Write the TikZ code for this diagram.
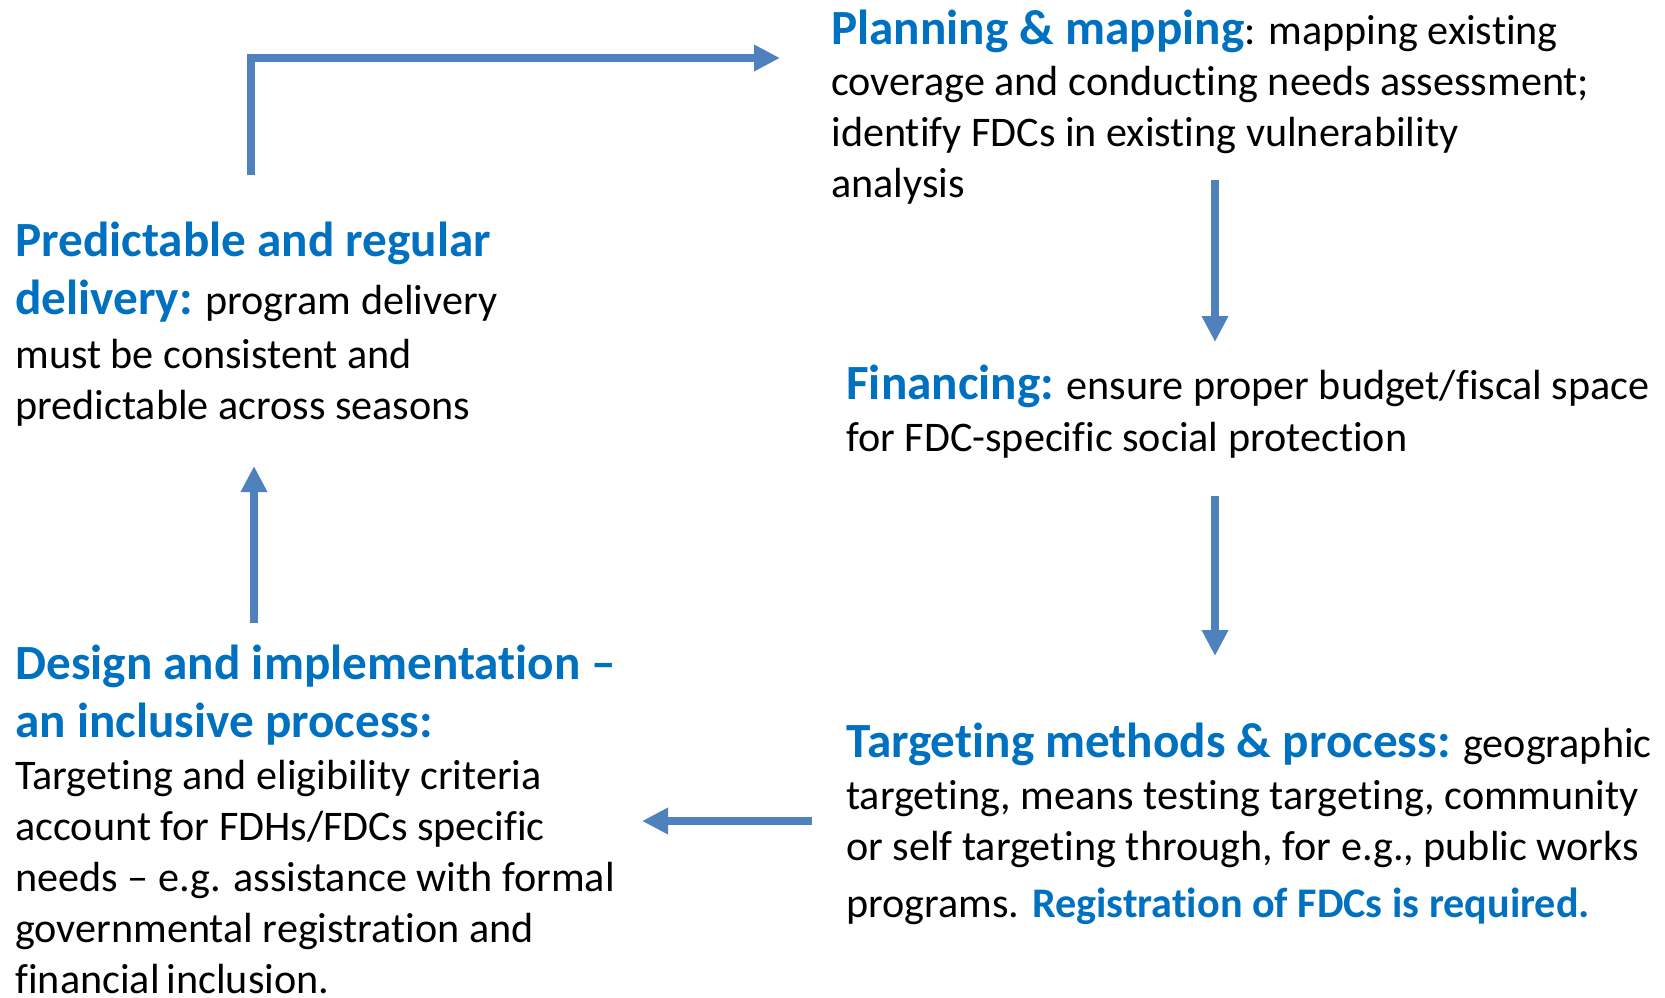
\documentclass[tikz,border=0pt]{standalone}
\usepackage{fontspec}
\setmainfont{Carlito}[Ligatures=NoCommon]
\usetikzlibrary{arrows.meta}
\definecolor{headblue}{HTML}{0070C0}
\definecolor{arrowblue}{HTML}{4F81BD}
\newcommand\hd[1]{{\fontsize{28}{29}\selectfont\bfseries\color{headblue}#1}}

\begin{document}
\begin{tikzpicture}[x=0.02cm,y=-0.02cm,
  stage/.style={anchor=base west,inner sep=0pt,align=left,
    font=\fontsize{24}{29}\selectfont},
  flow/.style={-{Triangle[length=0.52cm,width=0.5cm]},line width=0.16cm,arrowblue}]
\useasboundingbox (0,0) rectangle (1665,997);

% Planning (base = last line)
\node[stage] (plan) at (831,197) {\hd{Planning \& mapping}: mapping existing\\
coverage and conducting needs assessment;\\
identify FDCs in existing vulnerability\\
analysis};

% Financing
\node[stage] (fin) at (846,451) {\hd{Financing:} ensure proper budget/fiscal space\\[0.6pt]
for FDC-specific social protection};

% Targeting
\node[stage] (targ) at (846,917) {\hd{Targeting methods \& process:} geographic\\[0.6pt]
targeting, means testing targeting, community\\
or self targeting through, for e.g., public works\\[3pt]
programs. {\bfseries\color{headblue}\fontsize{24}{29}\selectfont Registration of FDCs is required.}};

% Design
\node[stage] (design) at (15,993) {\hd{Design and implementation --}\\[4pt]
\hd{an inclusive process:}\\[0.6pt]
Targeting and eligibility criteria\\
account for FDHs/FDCs specific\\
needs -- e.g. assistance with formal\\
governmental registration and\\
financial\,inclusion.};

% Delivery
\node[stage] (deliv) at (15,419) {\hd{Predictable and regular}\\[4pt]
\hd{delivery:} program delivery\\[1.5pt]
must be consistent and\\
predictable across seasons};

% arrows
\coordinate (delivUp) at (251,175);
\coordinate (corner) at (251,58);
\coordinate (planIn) at (780,58);
\coordinate (planOut) at (1215,180);
\coordinate (finIn) at (1215,342);
\coordinate (finOut) at (1215,496);
\coordinate (targIn) at (1215,656);
\coordinate (targOut) at (812,821);
\coordinate (designIn) at (642,821);
\coordinate (designOut) at (254,623);
\coordinate (delivIn) at (254,466);

\draw[flow] (delivUp) -- (corner) -- (planIn);
\draw[flow] (planOut) -- (finIn);
\draw[flow] (finOut) -- (targIn);
\draw[flow] (targOut) -- (designIn);
\draw[flow] (designOut) -- (delivIn);

\end{tikzpicture}
\end{document}
